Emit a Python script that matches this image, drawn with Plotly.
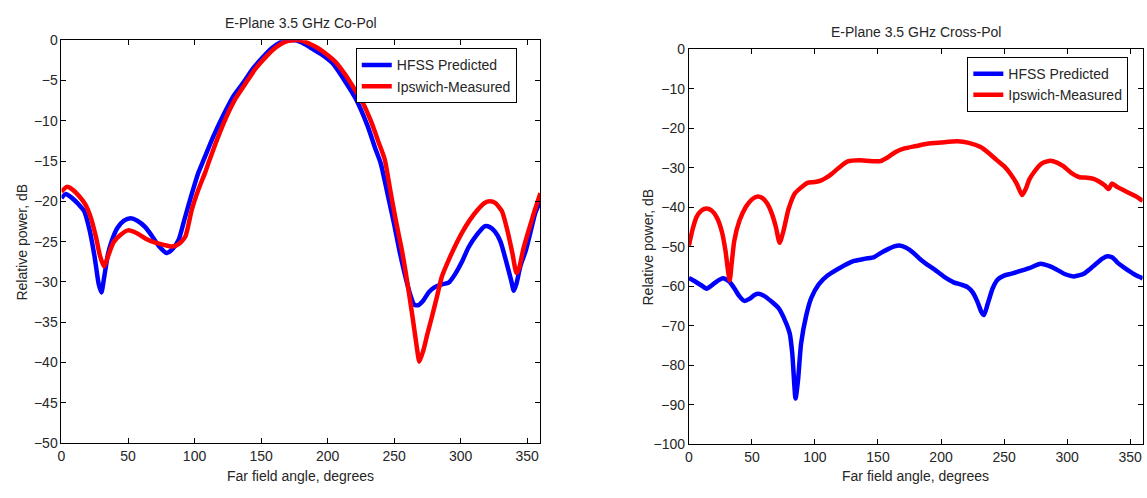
import plotly.graph_objects as go

# ---------------- Co-Pol data ----------------
co_hfss_deg = [0, 3, 8, 13, 17, 21, 25, 28, 30, 32, 35, 38, 42, 47, 52, 57, 63, 68, 73, 79, 83, 88, 92, 97,
               103, 107, 114, 122, 129, 137, 144, 152, 158, 164, 170, 176, 182, 188, 195, 204, 212, 221, 230,
               236, 240, 245, 250, 254, 258, 262, 265, 268, 272, 276, 280, 286, 291, 296, 301, 306, 312, 318,
               322, 326, 330, 334, 338, 340, 342, 345, 349, 353, 356, 360]
co_hfss_db = [-19.6, -19.1, -19.6, -20.4, -21.2, -23.5, -27, -30.3, -31.3, -29.5, -26.5, -24.8, -23.3, -22.4,
              -22.1, -22.4, -23.2, -24.3, -25.5, -26.4, -26.0, -24.8, -22.5, -19.6, -16.4, -14.8, -12, -9.2,
              -7, -5.2, -3.5, -2, -1, -0.3, 0, 0, -0.4, -1.0, -1.7, -2.9, -4.8, -7.2, -10.6, -13.5, -15.3,
              -19, -22.8, -26.1, -29, -31.5, -32.8, -32.9, -32.3, -31.3, -30.7, -30.3, -30.1, -29, -27.5,
              -25.7, -24.2, -23.1, -23.2, -23.8, -25, -27.3, -29.8, -31.1, -30.2, -28, -26.1, -23.5, -21.5,
              -19.9]

co_meas_deg = [0, 4, 8, 13, 18, 22, 26, 29, 32, 35, 39, 44, 50, 56, 63, 70, 77, 83, 88, 93, 98, 103, 108,
               111, 117, 124, 131, 139, 146, 154, 161, 168, 174, 180, 186, 192, 199, 206, 213, 220, 226, 233,
               238, 243, 247, 251, 256, 260, 264, 267, 269, 272, 275, 278, 282, 286, 291, 296, 301, 307, 313,
               318, 322, 326, 331, 335, 339, 342, 344, 347, 351, 355, 360]
co_meas_db = [-18.8, -18.2, -18.5, -19.3, -20.4, -22, -24.5, -26.8, -28.1, -26.8, -25.1, -24.2, -23.6,
              -23.9, -24.6, -25.1, -25.4, -25.6, -25.3, -24.4, -21, -18.5, -16.4, -15, -12.3, -9.5, -7.2,
              -5.2, -3.5, -2, -0.9, -0.2, 0, 0, -0.4, -0.9, -1.7, -2.7, -4.2, -6, -7.6, -10.2, -12.5,
              -14.8, -18.5, -22.1, -26.2, -30.1, -34.5, -38, -39.9, -38.5, -36.5, -34.6, -32, -29.3, -27.3,
              -25.5, -23.9, -22.3, -21, -20.2, -20, -20.2, -21.2, -23.5, -26.5, -28.9, -28.3, -26, -23.7,
              -21.5, -19]

# ---------------- Cross-Pol data ----------------
x_hfss_deg = [0, 5, 10, 14, 18, 22, 27, 32, 36, 40, 44, 48, 52, 55, 60, 66, 71, 76, 80, 82, 84.6, 86.5, 89,
              93, 97, 103, 110, 120, 131, 140, 147, 152, 158, 163, 167, 172, 178, 184, 189, 195, 202, 210,
              216, 221, 225, 229, 232, 234, 237, 241, 245, 250, 256, 263, 270, 279, 285, 292, 298, 305, 310,
              314, 318, 323, 328, 332, 336, 340, 345, 350, 355, 360]
x_hfss_db = [-57.9, -58.8, -59.8, -60.6, -59.8, -58.8, -58, -58.8, -60.5, -62.5, -63.7, -63.2, -62.2, -61.9,
             -62.5, -64, -65.5, -68.5, -72, -77, -88.4, -84, -74.5, -67.5, -63, -59.5, -57.3, -55.3, -53.6,
             -53, -52.6, -51.6, -50.6, -49.9, -49.7, -50.2, -51.5, -53.3, -54.5, -55.8, -57.5, -59, -59.6,
             -60.2, -61.5, -64, -66.5, -67.3, -64.5, -60.5, -58.3, -57.3, -56.8, -56.1, -55.4, -54.3, -54.8,
             -55.8, -56.9, -57.5, -57.2, -56.7, -55.7, -54.3, -53, -52.4, -52.7, -54, -55.2, -56.3, -57.3,
             -58]

x_meas_deg = [0, 3, 6, 10, 14, 18, 22, 26, 29, 31, 32.4, 34, 36, 40, 45, 50, 54, 58, 62, 66, 69, 72, 75, 79,
              84, 89, 94, 100, 105, 109, 113, 119, 126, 135, 144, 152, 158, 164, 171, 180, 189, 200, 213,
              222, 231, 238, 244, 250, 255, 260, 264.3, 267, 270, 274, 280, 287, 292, 297, 303, 310, 316,
              321, 326, 330, 333, 335.5, 340, 345, 350, 355, 360]
x_meas_db = [-49.7, -45.5, -42.5, -40.8, -40.3, -40.8, -42.5, -46, -51, -56, -58.5, -54, -48.5, -43.5, -40,
             -38, -37.3, -37.6, -39, -41.8, -45, -49, -46, -40.5, -36.5, -35, -33.8, -33.6, -33.2, -32.5,
             -31.6, -30, -28.4, -28.1, -28.3, -28.3, -27.3, -26, -25.1, -24.5, -23.9, -23.6, -23.3, -23.7,
             -24.7, -26.3, -28, -29.6, -31.5, -34, -36.9, -35.5, -33, -31, -28.9, -28.2, -28.7, -29.6,
             -31.2, -32.4, -32.5, -32.8, -33.6, -34.5, -35.4, -34, -34.9, -35.7, -36.5, -37.3, -38.4]

x_ticks = [0, 50, 100, 150, 200, 250, 300, 350]
co_yticks = [0, -5, -10, -15, -20, -25, -30, -35, -40, -45, -50]
cx_yticks = [0, -10, -20, -30, -40, -50, -60, -70, -80, -90, -100]

series_names = ["HFSS Predicted", "Ipswich-Measured"]
BLUE = "#0000ff"
RED = "#ff0000"
FONT = "Liberation Sans"
TXT = "#262626"
FS = 14

W, H = 1147, 498

LINE_W = 4.5
SM = 0.6

fig = go.Figure()
fig.add_trace(go.Scatter(x=co_hfss_deg, y=co_hfss_db, mode="lines", name=series_names[0],
                         line=dict(color=BLUE, width=LINE_W, shape="spline", smoothing=SM),
                         xaxis="x", yaxis="y", legend="legend"))
fig.add_trace(go.Scatter(x=co_meas_deg, y=co_meas_db, mode="lines", name=series_names[1],
                         line=dict(color=RED, width=LINE_W, shape="spline", smoothing=SM),
                         xaxis="x", yaxis="y", legend="legend"))
fig.add_trace(go.Scatter(x=x_hfss_deg, y=x_hfss_db, mode="lines", name=series_names[0],
                         line=dict(color=BLUE, width=LINE_W, shape="spline", smoothing=SM),
                         xaxis="x2", yaxis="y2", legend="legend2"))
fig.add_trace(go.Scatter(x=x_meas_deg, y=x_meas_db, mode="lines", name=series_names[1],
                         line=dict(color=RED, width=LINE_W, shape="spline", smoothing=SM),
                         xaxis="x2", yaxis="y2", legend="legend2"))

axis_common = dict(showline=True, linecolor="#000000", linewidth=1, mirror="allticks", ticks="inside",
                   ticklen=5, tickcolor="#000000", showgrid=False, zeroline=False,
                   tickfont=dict(family=FONT, size=FS, color=TXT))

left_dom = [57.7 / W, 538.3 / W]
right_dom = [687.3 / W, 1142.7 / W]
left_ydom = [1 - 449.5 / H, 1 - 33.3 / H]
right_ydom = [1 - 450.7 / H, 1 - 42.7 / H]

fig.update_layout(
    width=W, height=H, margin=dict(l=0, r=0, t=0, b=0),
    paper_bgcolor="white", plot_bgcolor="white",
    font=dict(family=FONT, size=FS, color=TXT),
    xaxis=dict(domain=left_dom, range=[0, 360], tickvals=x_ticks, anchor="y", **axis_common),
    yaxis=dict(domain=left_ydom, range=[-50, 0], tickvals=co_yticks, anchor="x", **axis_common),
    xaxis2=dict(domain=right_dom, range=[0, 360], tickvals=x_ticks, anchor="y2", **axis_common),
    yaxis2=dict(domain=right_ydom, range=[-100, 0], tickvals=cx_yticks, anchor="x2", **axis_common),
    legend=dict(x=353 / W, y=1 - 41.7 / H, xanchor="left", yanchor="top", bgcolor="white",
                bordercolor="#000000", borderwidth=1, font=dict(family=FONT, size=FS, color=TXT)),
    legend2=dict(x=966.7 / W, y=1 - 50.7 / H, xanchor="left", yanchor="top", bgcolor="white",
                 bordercolor="#000000", borderwidth=1, font=dict(family=FONT, size=FS, color=TXT)),
    showlegend=True,
)

ann = [
    dict(text="E-Plane 3.5 GHz Co-Pol", x=(left_dom[0] + left_dom[1]) / 2, y=1 - 15 / H),
    dict(text="E-Plane 3.5 GHz Cross-Pol", x=(right_dom[0] + right_dom[1]) / 2, y=1 - 25 / H),
    dict(text="Far field angle, degrees", x=(left_dom[0] + left_dom[1]) / 2, y=1 - 484 / H),
    dict(text="Far field angle, degrees", x=(right_dom[0] + right_dom[1]) / 2, y=1 - 484 / H),
    dict(text="Relative power, dB", x=18 / W, y=(left_ydom[0] + left_ydom[1]) / 2, textangle=-90),
    dict(text="Relative power, dB", x=646 / W, y=(right_ydom[0] + right_ydom[1]) / 2, textangle=-90),
]
for a in ann:
    fig.add_annotation(xref="paper", yref="paper", showarrow=False, xanchor="center", yanchor="middle",
                       font=dict(family=FONT, size=FS, color=TXT), **a)

fig.write_html("out.html")
